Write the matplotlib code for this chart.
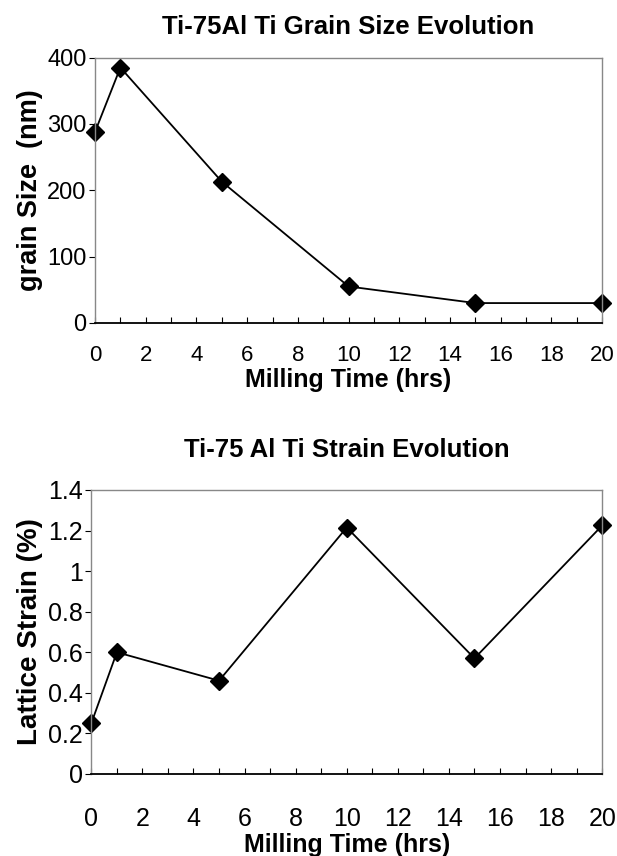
import numpy as np
import matplotlib
matplotlib.use('Agg')
import matplotlib.pyplot as plt
from matplotlib.ticker import MultipleLocator, FormatStrFormatter

plt.rcParams['font.family'] = ['Liberation Sans', 'DejaVu Sans']

# milling time (hrs)
hrs = [0, 1, 5, 10, 15, 20]
# Ti grain size (nm)
grain = [288, 385, 213, 55, 30, 30]
# lattice strain (%)
strain = [0.25, 0.60, 0.46, 1.215, 0.57, 1.225]

fig = plt.figure(figsize=(6.17, 8.56), dpi=100)

ax1 = fig.add_axes([0.154, 0.6227, 0.822, 0.310])
ax2 = fig.add_axes([0.148, 0.0958, 0.828, 0.3318])

def style(ax):
	for s in ['top', 'right', 'left']:
		ax.spines[s].set_color('#888888')
		ax.spines[s].set_linewidth(1.0)
	ax.spines['bottom'].set_color('black')
	ax.spines['bottom'].set_linewidth(1.3)
	ax.set_xlim(0, 20)
	ax.xaxis.set_major_locator(MultipleLocator(2))
	ax.xaxis.set_minor_locator(MultipleLocator(1))
	ax.tick_params(axis='x', which='both', direction='in', length=4, width=0.8)
	ax.tick_params(axis='y', which='major', direction='out', length=4, width=0.8)
	ax.set_xlabel('Milling Time (hrs)', fontsize=18, fontweight='bold', labelpad=1)

ax1.plot(hrs, grain, color='black', lw=1.3, marker='D', ms=9, clip_on=False)
style(ax1)
ax1.set_ylim(0, 400)
ax1.yaxis.set_major_locator(MultipleLocator(100))
ax1.tick_params(axis='x', pad=16, labelsize=16)
ax1.tick_params(axis='y', pad=2, labelsize=17)
ax1.set_ylabel('grain Size  (nm)', fontsize=19.5, fontweight='bold', labelpad=3)
ax1.set_title('Ti-75Al Ti Grain Size Evolution', fontsize=18.5, fontweight='bold', pad=17)

ax2.plot(hrs, strain, color='black', lw=1.3, marker='D', ms=9, clip_on=False)
style(ax2)
ax2.set_ylim(0, 1.4)
ax2.yaxis.set_major_locator(MultipleLocator(0.2))
ax2.yaxis.set_major_formatter(FormatStrFormatter('%g'))
ax2.tick_params(axis='x', pad=24, labelsize=18)
ax2.tick_params(axis='y', pad=2, labelsize=18)
ax2.set_ylabel('Lattice Strain (%)', fontsize=20, fontweight='bold', labelpad=4)
ax2.set_title('Ti-75 Al Ti Strain Evolution', fontsize=18.5, fontweight='bold', pad=24)

plt.savefig('out.png', dpi=100)
